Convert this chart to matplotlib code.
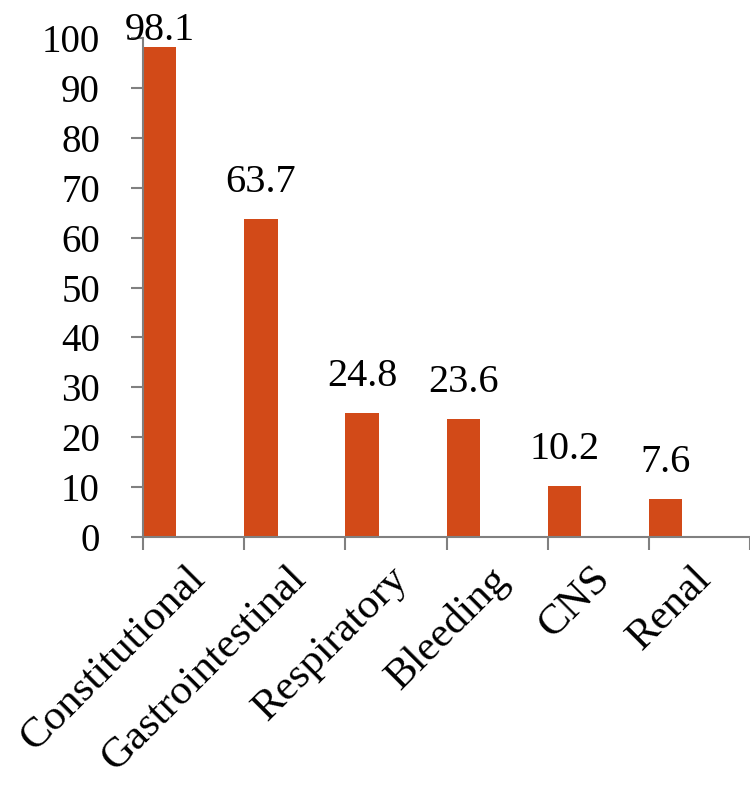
import numpy as np
import matplotlib.pyplot as plt

categories = ['Constitutional', 'Gastrointestinal', 'Respiratory', 'Bleeding', 'CNS', 'Renal']
values = [98.1, 63.7, 24.8, 23.6, 10.2, 7.6]

plt.rcParams['font.family'] = ['Liberation Serif', 'DejaVu Serif']

fig = plt.figure(figsize=(7.5, 7.85), dpi=100)
ax = fig.add_axes([143 / 750, 1 - 537 / 785, 607 / 750, 499 / 785])

x = np.arange(len(categories))
ax.bar(x, values, width=0.33, align='edge', color='#D24A18')

for xi, v in zip(x, values):
    ax.text(xi + 0.165, min(v + 5.4, 99.6), f'{v}', ha='center', va='baseline',
            fontsize=29, clip_on=False)

ax.set_xlim(0, 607 / 102)
ax.set_ylim(0, 100)
ax.set_yticks(range(0, 101, 10))
ax.set_xticks(range(0, 7))
ax.set_xticklabels([])
ax.set_xticks(x + 0.42, minor=True)
ax.set_xticklabels(categories, minor=True, rotation=45, ha='right', va='top',
                   rotation_mode='anchor', fontsize=31)

for s in ['top', 'right']:
    ax.spines[s].set_visible(False)
for s in ['left', 'bottom']:
    ax.spines[s].set_color('#808080')
    ax.spines[s].set_linewidth(1.5)
ax.tick_params(axis='y', which='major', length=9, width=1.5, color='#808080',
               labelsize=28, pad=22)
ax.tick_params(axis='x', which='major', length=9, width=1.5, color='#808080')
ax.tick_params(axis='x', which='minor', length=0, pad=16)

fig.savefig('out.png', dpi=100)
